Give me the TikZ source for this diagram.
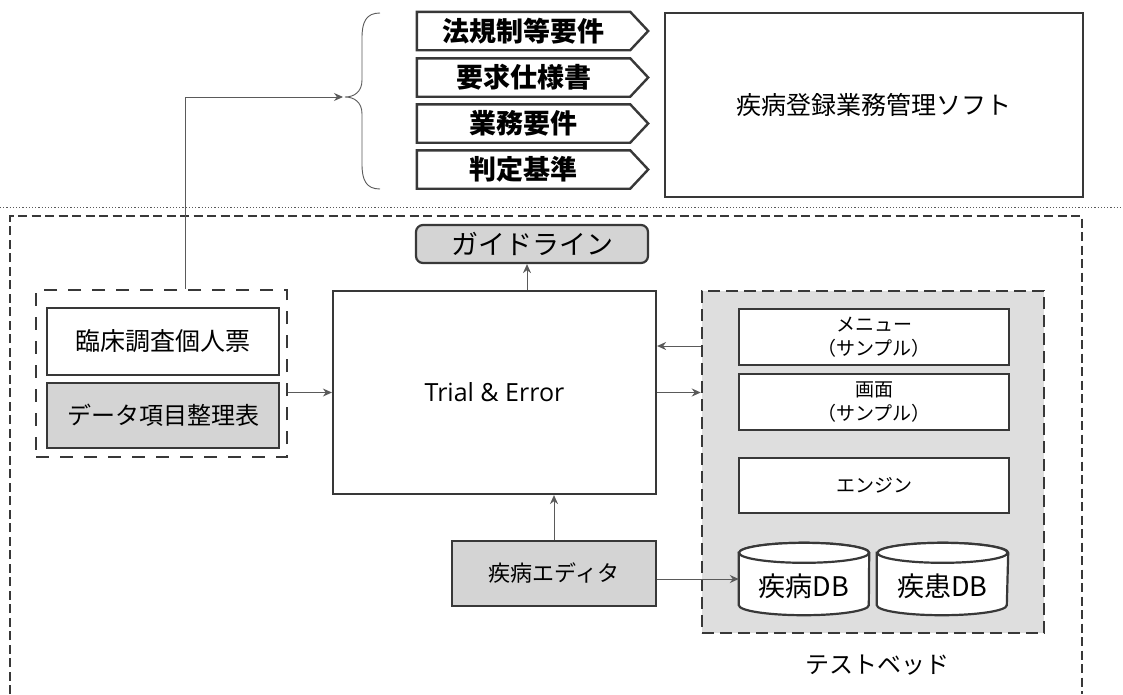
\documentclass[tikz,border=0pt]{standalone}
\usepackage{fontspec}
\newfontfamily\jp{Noto Sans CJK JP}
\newfontfamily\latin{Open Sans}
\usetikzlibrary{arrows.meta}
\definecolor{edge}{HTML}{383838}
\definecolor{shade}{HTML}{D4D4D4}
\definecolor{panelfill}{HTML}{DEDEDE}
\definecolor{wire}{HTML}{5A5A5A}

\begin{document}
\begin{tikzpicture}[x=1pt,y=-1pt,
  box/.style={draw=edge, line width=2.2pt, fill=white, inner sep=0pt, align=center,
    font=\jp\fontsize{24}{28}\selectfont},
  graybox/.style={box, fill=shade},
  small/.style={font=\jp\fontsize{19}{24}\selectfont},
  reqbody/.style={inner sep=0pt, minimum width=213pt, minimum height=38pt,
    font=\jp\bfseries\fontsize{27}{30}\selectfont},
  reqedge/.style={draw=edge, line width=2.4pt, fill=white, line join=miter},
  wirearrow/.style={draw=wire, line width=0.9pt, -{Stealth[length=9pt,width=8pt]}},
  thinwire/.style={draw=wire, line width=0.9pt},
  groupframe/.style={draw=edge, line width=2.2pt, dash pattern=on 13pt off 11pt},
  dbshape/.style={draw=edge, line width=2.2pt, fill=white},
  dblabel/.style={inner sep=0pt, font=\jp\fontsize{27}{30}\selectfont},
]
\useasboundingbox (0,0) rectangle (1123,694);
\fill[white] (0,0) rectangle (1123,694);

% requirement tags with pointed right ends
\foreach \name/\yc/\txt in {law/31/法規制等要件, spec/77.5/要求仕様書, work/123.5/業務要件, judge/169.5/判定基準}{
  \node[reqbody] (\name) at (523.5,\yc) {};
  \draw[reqedge] (\name.north west) -- (\name.north east) -- ([xshift=18pt]\name.east)
    -- (\name.south east) -- (\name.south west) -- cycle;
  \node[reqbody] at (\name) {\txt};
}

% curly brace collecting the requirements
\coordinate (btip) at (343,97);
\draw[thinwire] (380,13) .. controls (366,13) and (362,22) .. (362,38) -- (362,80)
  .. controls (362,92) and (354,97) .. (345,97)
  .. controls (354,97) and (362,102) .. (362,114) -- (362,164)
  .. controls (362,180) and (366,189) .. (380,189);

% target software
\node[box, minimum width=418pt, minimum height=184pt, font=\jp\fontsize{25}{30}\selectfont]
  (soft) at (874,105) {疾病登録業務管理ソフト};

% separator and test bed frame
\draw[wire, line width=0.8pt, dash pattern=on 1.2pt off 2pt] (0,207) -- (1123,207);
\draw[edge, line width=2.2pt, dash pattern=on 9pt off 4.5pt] (10,694) -- (10,216) -- (1082,216) -- (1082,694);

% guideline output
\node[graybox, rounded corners=7pt, minimum width=232pt, minimum height=38pt,
  font=\jp\fontsize{27}{30}\selectfont] (guide) at (532,244) {ガイドライン};

% central process
\node[box, minimum width=323pt, minimum height=203pt, font=\latin\fontsize{25}{30}\selectfont]
  (trial) at (494.5,392.5) {Trial \& Error};

% input documents
\node[groupframe, minimum width=251pt, minimum height=167pt, inner sep=0pt] (grpL) at (161.5,373.5) {};
\node[box, minimum width=232pt, minimum height=67pt, font=\jp\fontsize{25}{28}\selectfont]
  (card) at (163,341.5) {臨床調査個人票};
\node[graybox, minimum width=232pt, minimum height=65pt] (items) at (163,415.5) {データ項目整理表};

% test bed panel
\node[draw=edge, fill=panelfill, line width=2.5pt, dash pattern=on 12pt off 6pt,
  minimum width=342pt, minimum height=342pt, inner sep=0pt] (panel) at (873,462) {};
\node[box, small, minimum width=270pt, minimum height=56pt] (menu) at (874,337) {メニュー\\（サンプル）};
\node[box, small, minimum width=270pt, minimum height=56pt] (screen) at (874,402) {画面\\（サンプル）};
\node[box, small, minimum width=270pt, minimum height=55pt] (engine) at (874,485.5) {エンジン};

% databases
\node[inner sep=0pt, minimum width=130pt, minimum height=52pt] (db1) at (804,579) {};
\node[inner sep=0pt, minimum width=131pt, minimum height=52pt] (db2) at (942.5,579) {};
\foreach \db in {db1,db2}{
  \path[dbshape] (\db.north west) -- (\db.south west)
    arc[start angle=180, end angle=360, x radius=65pt, y radius=10pt]
    -- (\db.north east) arc[start angle=0, end angle=180, x radius=65pt, y radius=10pt] -- cycle;
  \draw[dbshape] (\db.north) ellipse[x radius=65pt, y radius=10pt];
}
\node[dblabel] (db1t) at (804,586) {疾病DB};
\node[dblabel] (db2t) at (942.5,586) {疾患DB};

% disease editor
\node[graybox, minimum width=204pt, minimum height=65pt, font=\jp\fontsize{22}{26}\selectfont]
  (editor) at (554,573.5) {疾病エディタ};

\node[inner sep=0pt, font=\jp\fontsize{24}{28}\selectfont] (bedlabel) at (877,665) {テストベッド};

% connectors
\draw[wirearrow] ([xshift=24pt]grpL.north) |- (btip);
\draw[wirearrow] (grpL.east |- trial.west) -- (trial.west);
\draw[wirearrow] ([xshift=-5pt]guide.south |- trial.north) -- ([xshift=-5pt]guide.south);
\draw[wirearrow] ([yshift=46.5pt]trial.east -| panel.west) -- ([yshift=46.5pt]trial.east);
\draw[wirearrow] (trial.east) -- (trial.east -| panel.west);
\draw[wirearrow] (editor.north) -- (editor.north |- trial.south);
\draw[wirearrow] (db1.west -| editor.east) -- (db1.west);
\end{tikzpicture}
\end{document}
